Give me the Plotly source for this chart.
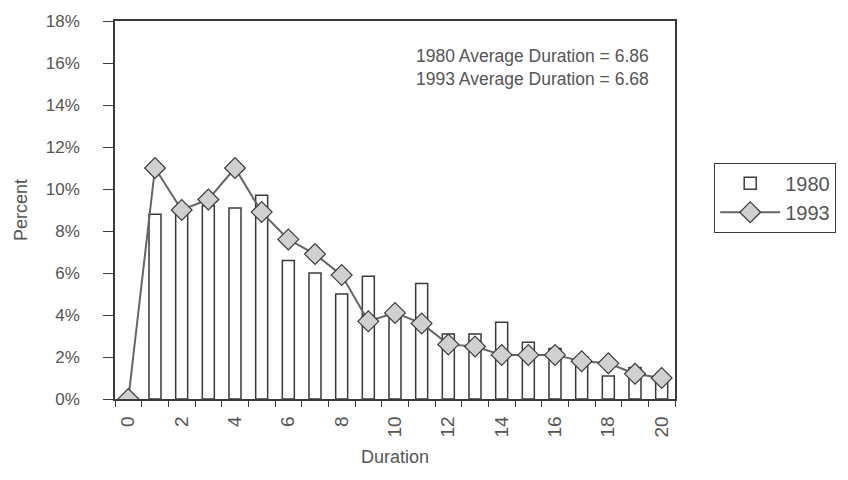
import plotly.graph_objects as go

durations = list(range(0, 21))
pct_1980 = [0, 8.8, 8.9, 9.2, 9.1, 9.7, 6.6, 6.0, 5.0, 5.85, 3.9,
            5.5, 3.1, 3.1, 3.65, 2.7, 2.4, 2.0, 1.1, 1.5, 1.0]
pct_1993 = [0, 11.0, 9.0, 9.5, 11.0, 8.9, 7.6, 6.9, 5.9, 3.7, 4.1,
            3.6, 2.6, 2.5, 2.1, 2.1, 2.1, 1.8, 1.7, 1.2, 1.0]
x_tick_vals = list(range(0, 21, 2))
y_tick_vals = list(range(0, 19, 2))
notes = ["1980 Average Duration = 6.86", "1993 Average Duration = 6.68"]

INK = "#3a3a3a"
TXT = "#555555"
FONT = "Liberation Sans, Arial, sans-serif"

fig = go.Figure()
fig.add_trace(go.Bar(
    x=durations, y=pct_1980, name="1980", width=0.45,
    marker=dict(color="white", line=dict(color=INK, width=1.5)),
))
fig.add_trace(go.Scatter(
    x=durations, y=pct_1993, name="1993", mode="lines+markers",
    line=dict(color="#666666", width=2),
    marker=dict(symbol="diamond", size=16, color="#d0d0d0",
                line=dict(color=INK, width=1.2)),
))

fig.update_layout(
    width=848, height=480,
    margin=dict(l=115, r=172, t=15, b=81),
    paper_bgcolor="white", plot_bgcolor="white",
    font=dict(family=FONT, color=TXT, size=16),
    showlegend=True,
    legend=dict(x=1.07, y=0.625, xanchor="left", yanchor="top",
                bordercolor=INK, borderwidth=1, bgcolor="white",
                font=dict(size=20, color=TXT), itemwidth=60,
                tracegroupgap=2),
    bargap=0.5,
)
fig.update_xaxes(
    range=[-0.5, 20.5], tickmode="array", tickvals=x_tick_vals,
    ticktext=[str(v) for v in x_tick_vals], tickangle=-90,
    tickfont=dict(size=19),
    ticks="", showline=True, linecolor=INK, linewidth=1.5, mirror=True,
    showgrid=False, zeroline=False,
    minor=dict(tick0=-0.5, dtick=1, ticks="outside", ticklen=6,
               tickcolor=INK, showgrid=False),
    title=dict(text="Duration", font=dict(size=18, color=TXT), standoff=14),
    ticklabelstandoff=8,
)
fig.update_yaxes(
    range=[0, 18], tickmode="array", tickvals=y_tick_vals,
    ticktext=[f"{v}%" for v in y_tick_vals],
    tickfont=dict(size=17),
    ticks="outside", ticklen=10, tickcolor=INK,
    showline=True, linecolor=INK, linewidth=1.5, mirror=True,
    showgrid=False, zeroline=False,
    title=dict(text="Percent", font=dict(size=18, color=TXT), standoff=14),
    ticklabelstandoff=20,
)
fig.add_annotation(
    xref="paper", yref="paper", x=0.958, y=0.94, xanchor="right", yanchor="top",
    text="<br>".join(notes), showarrow=False, align="right",
    font=dict(size=17.5, color=TXT, family=FONT),
)
fig.write_html("out.html")
